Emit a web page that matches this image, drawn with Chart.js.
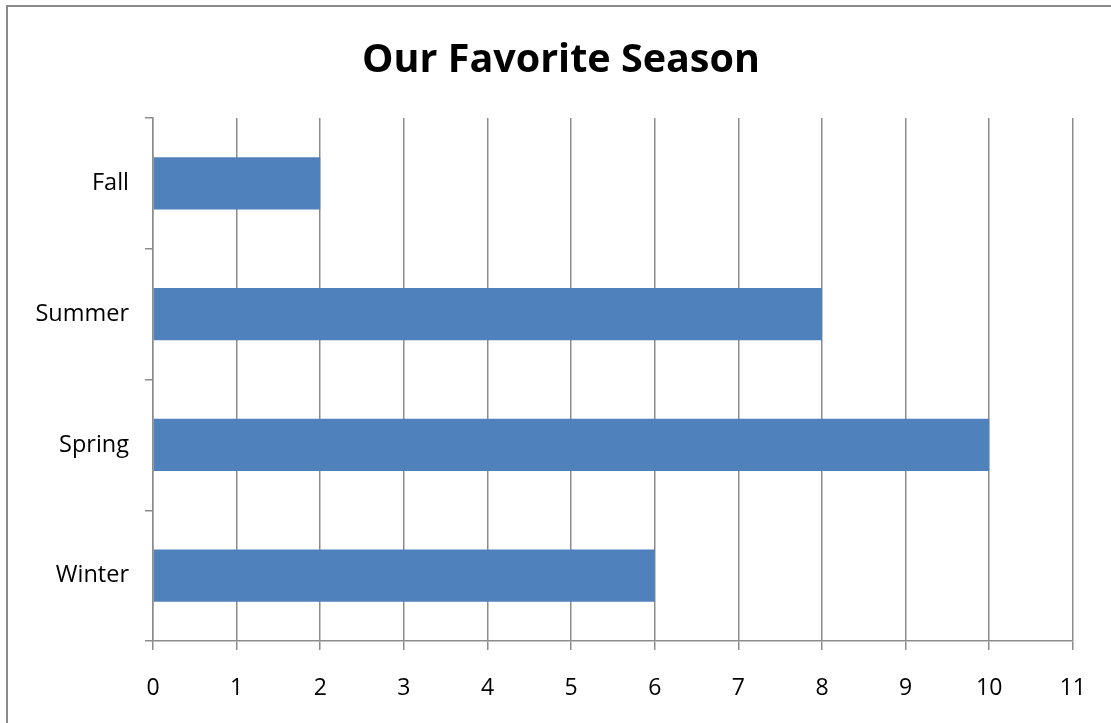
<!DOCTYPE html>
<html>
<head>
<meta charset="utf-8">
<script src="https://cdn.jsdelivr.net/npm/chart.js@4/dist/chart.umd.min.js"></script>
<style>
html,body{margin:0;padding:0;background:#fff;overflow:hidden;}
#wrap{position:relative;width:1111px;height:723px;}
#frame{position:absolute;left:6px;top:5px;width:1200px;height:800px;border:2px solid #8a8a8a;pointer-events:none;}
</style>
</head>
<body>
<div id="wrap">
<canvas id="c" width="1111" height="723"></canvas>
<div id="frame"></div>
</div>
<script>
const categories = ["Fall", "Summer", "Spring", "Winter"];
const votes = [2, 8, 10, 6];
const xMin = 0;
const xMax = 11;
const chartTitle = "Our Favorite Season";

const gridColor = "#8c8c8c";

const titlePlugin = {
  id: "offsetTitle",
  afterDraw(chart) {
    const ctx = chart.ctx;
    ctx.save();
    ctx.font = "bold 39.5px 'Open Sans'";
    ctx.fillStyle = "#000";
    ctx.textAlign = "center";
    ctx.textBaseline = "middle";
    ctx.fillText(chartTitle, 561, 61);
    ctx.restore();
  }
};

new Chart(document.getElementById("c"), {
  type: "bar",
  data: {
    labels: categories,
    datasets: [{
      data: votes,
      backgroundColor: "#4F81BD",
      borderWidth: 0,
      barPercentage: 0.4,
      categoryPercentage: 1.0
    }]
  },
  plugins: [titlePlugin],
  options: {
    indexAxis: "y",
    responsive: false,
    animation: false,
    layout: { padding: { left: 0, right: 33, top: 118, bottom: 0 } },
    plugins: {
      legend: { display: false },
      tooltip: { enabled: false },
      title: { display: false }
    },
    scales: {
      x: {
        min: xMin, max: xMax,
        ticks: { stepSize: 1, color: "#000", font: { family: "Open Sans", size: 23 }, padding: 25 },
        grid: { color: gridColor, lineWidth: 1.5, tickLength: 9, drawOnChartArea: true },
        border: { color: gridColor, width: 1.5 },
        afterFit: (s) => { s.height = 82; }
      },
      y: {
        ticks: { color: "#000", font: { family: "Open Sans", size: 23.5 }, padding: 16 },
        grid: { offset: true, color: gridColor, lineWidth: 1.5, tickLength: 8, drawOnChartArea: false },
        border: { color: gridColor, width: 1.5 },
        afterFit: (s) => { s.width = 153; }
      }
    }
  }
});
</script>
</body>
</html>
